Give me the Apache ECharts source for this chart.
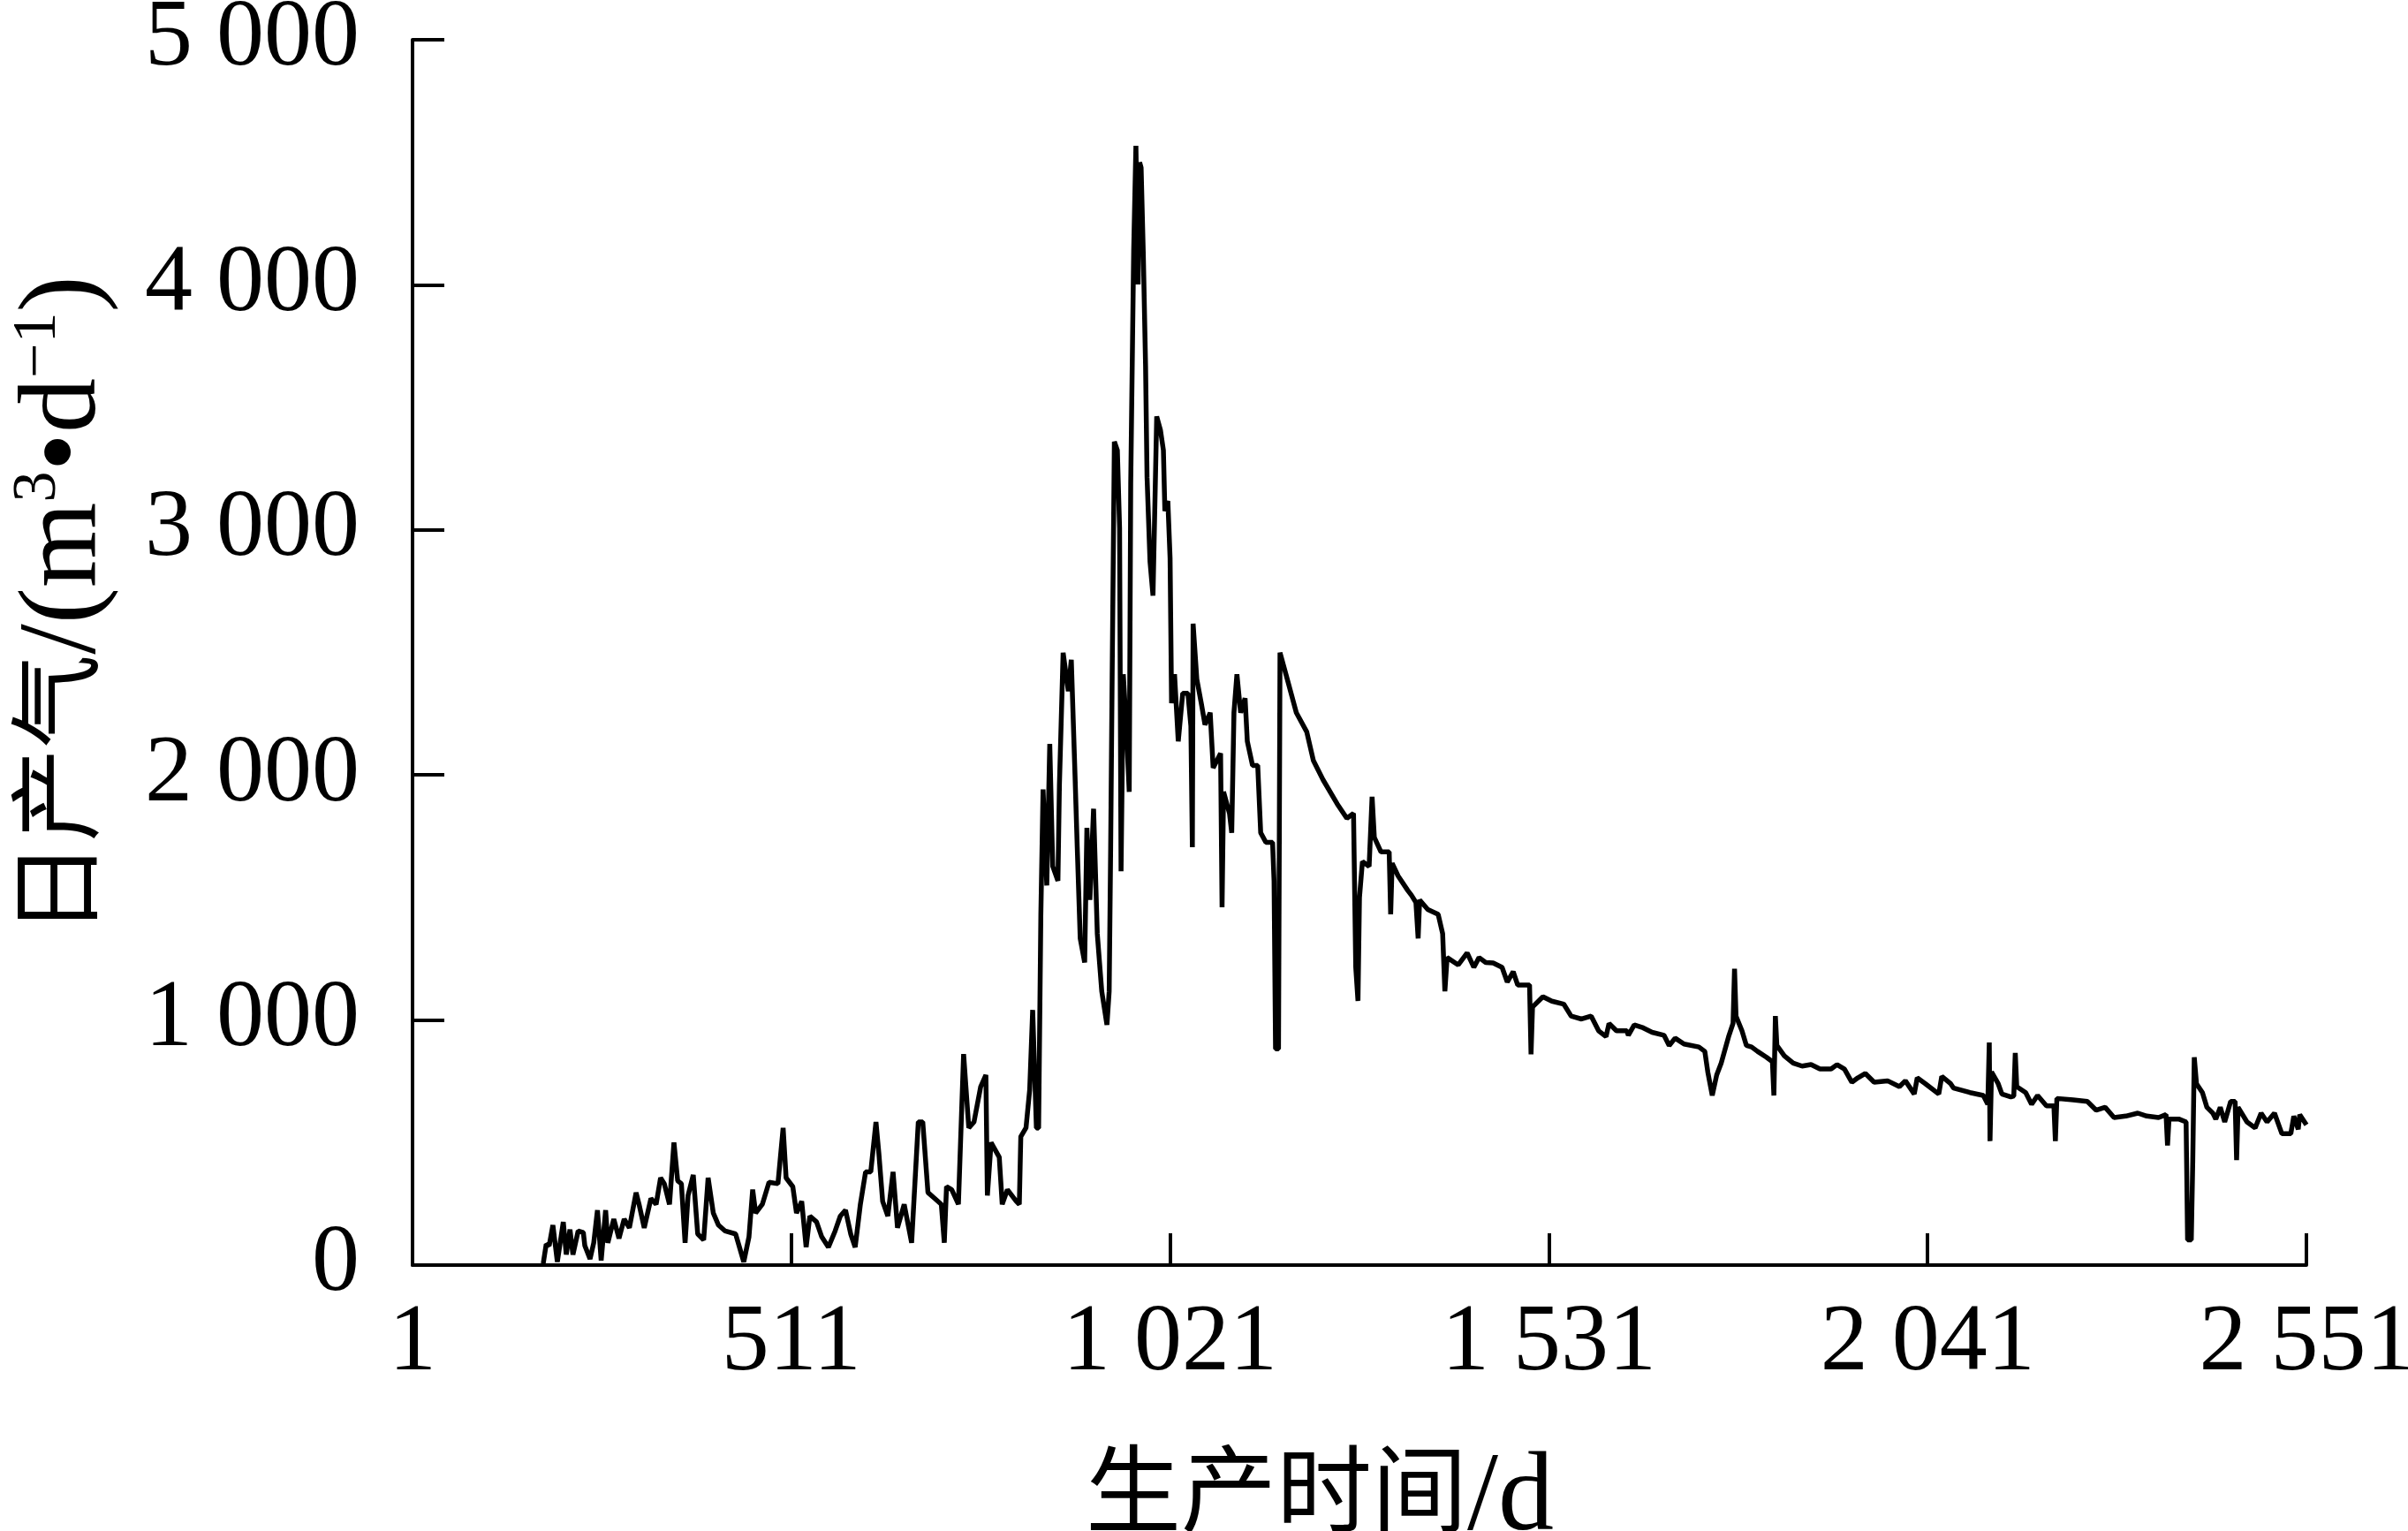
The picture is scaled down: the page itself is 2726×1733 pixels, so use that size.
<!DOCTYPE html>
<html>
<head>
<meta charset="utf-8">
<script src="https://cdn.jsdelivr.net/npm/echarts@6/dist/echarts.min.js"></script>
<style>
html,body{margin:0;padding:0;background:#fff;}
#chart{width:2726px;height:1733px;}
</style>
</head>
<body>
<div id="chart"></div>
<script>
// production day (d)
var prodDays = [
177,181,185,190,196,204,208,213,217,224,231,233,240,245,250,255,261,264,272,279,286,293,302,306,313,322,329,335,340,347,353,358,363,368,372,379,385,393,399,406,413,422,436,447,454,459,463,472,481,493,500,504,513,518,525,531,536,545,552,561,570,577,584,591,597,604,611,618,625,629,634,641,648,654,663,673,682,688,695,704,713,717,720,727,736,743,750,757,766,773,775,780,791,795,802,814,818,820,827,832,836,841,
844,847,850,855,859,863,870,872,877,884,888,893,896,900,906,909,913,918,923,929,936,939,941,943,946,950,953,955,958,962,966,968,972,975,978,980,982,985,988,990,994,998,1003,1008,1012,1014,1018,1021,1023,1027,1032,1038,1045,1049,1051,1052,1057,1063,1068,1075,1079,1089,1091,1093,1101,1104,1107,1111,1116,1122,1125,1132,1139,1143,1150,1159,1161,1163,1167,1169,1177,1191,1205,1214,1227,1246,1259,1268,1271,1274,1276,1280,1289,1293,1296,1305,1316,1318,1320,1328,1341,1346,1352,1355,1357,1368,1382,1388,1391,1394,1409,1421,1430,1437,1446,
1456,1468,1475,1483,1489,1505,1507,1509,1523,1535,1551,1561,1575,1588,1598,1608,1612,1622,1636,1638,1646,1658,1670,1686,1693,1701,1713,1733,1741,1745,1751,1757,1763,1773,1779,1781,1783,1791,1797,1804,1812,1824,1832,1834,1836,1838,1848,1860,1872,1884,1896,1911,1919,1929,1939,1947,1957,1969,1987,2003,2011,2023,2027,2038,2056,2060,2072,
2076,2098,2116,2122,2124,2125,2127,2136,2141,2153,2157,2159,2161,2173,2181,2189,2201,2211,2213,2215,2237,2256,2268,2280,2292,2308,2324,2336,2352,2362,2364,2366,2379,2389,2391,2396,2398,2400,2403,2411,2417,2425,2429,2435,2441,2449,2455,2457,2459,2471,2482,2490,2498,2508,2518,2530,2534,2540,2542,2551
];
// daily gas production (m3/d)
var dailyGas = [
7,85,79,163,13,176,43,145,43,139,133,79,25,91,224,19,224,91,188,109,188,152,296,248,152,272,248,356,332,248,500,344,332,91,284,368,127,103,356,212,163,139,127,13,115,308,212,248,338,332,560,356,320,212,260,73,200,176,115,73,139,200,224,127,73,248,380,380,584,452,260,200,380,152,248,91,584,584,296,272,248,91,320,308,248,861,560,584,728,776,284,500,440,248,308,260,248,524,560,716,1041,560,
559,1431,1941,1549,2127,1627,1568,1960,2499,2342,2470,1999,1705,1333,1235,1784,1490,1862,1352,1117,980,1117,1705,2400,3360,3325,3008,1607,2411,2200,1931,3187,4140,4567,4002,4500,4478,4119,3670,3215,2870,2732,3463,3408,3325,3077,3118,2884,2293,2411,2137,2333,2333,2200,1705,2617,2391,2293,2205,2254,2029,2088,1460,1931,1843,1764,2254,2411,2254,2313,2137,2039,2039,1764,1725,1725,1568,882,882,2499,2411,2254,2176,2058,1980,1882,1823,1843,1215,1078,1500,1647,1627,1911,1745,1686,1686,1431,1640,1588,1529,1509,1480,1333,1490,1451,1431,1352,1117,1255,1225,1274,1215,1255,1235,
1233,1215,1155,1197,1143,1143,860,1053,1095,1077,1065,1016,1004,1016,956,932,986,956,956,938,980,968,950,938,896,926,902,890,872,788,692,776,824,932,986,1209,1016,956,896,890,872,848,830,692,1016,896,854,824,812,818,800,800,818,800,746,764,782,746,752,728,752,698,764,740,698,770,740,
722,704,692,656,908,506,788,740,698,686,690,866,728,704,656,692,650,650,506,680,674,668,632,644,602,608,620,608,602,614,488,596,596,584,103,103,428,848,740,704,644,620,596,644,584,668,668,428,644,584,560,620,584,620,536,536,608,554,614,572
];
var xTicks = [1, 511, 1021, 1531, 2041, 2551];
var yTicks = [0, 1000, 2000, 3000, 4000, 5000];

var seriesData = prodDays.map(function (d, i) { return [d, dailyGas[i]]; });

function spaced(v) {
  var s = String(Math.round(v));
  return s.replace(/\B(?=(\d{3})+(?!\d))/g, ' ');
}

var FONT = "'Liberation Serif', 'Noto Sans CJK SC', serif";
var chart = echarts.init(document.getElementById('chart'), null, {renderer: 'canvas'});
chart.setOption({
  animation: false,
  backgroundColor: '#ffffff',
  grid: {left: 467, right: 115, top: 45, bottom: 301, containLabel: false, outerBoundsMode: 'none'},
  xAxis: {
    type: 'value',
    min: xTicks[0],
    max: xTicks[xTicks.length - 1],
    interval: 510,
    name: '生产时间{lat|/d}',
    nameLocation: 'middle',
    nameGap: 203,
    nameTextStyle: {
      fontFamily: FONT, fontSize: 108, color: '#000', padding: [0, 90, 0, 0],
      rich: {lat: {fontFamily: FONT, fontSize: 126, color: '#000'}}
    },
    axisLine: {show: true, lineStyle: {color: '#000', width: 4}},
    axisTick: {show: true, inside: true, length: 36, lineStyle: {color: '#000', width: 4}},
    axisLabel: {fontFamily: FONT, fontSize: 108, color: '#000', margin: 36, formatter: spaced},
    splitLine: {show: false}
  },
  yAxis: {
    type: 'value',
    min: yTicks[0],
    max: yTicks[yTicks.length - 1],
    interval: 1000,
    name: '日产气{lat|/(m}{sup|3}{lat|•d}{sup|−1}{lat|)}',
    nameLocation: 'middle',
    nameGap: 328,
    nameTextStyle: {
      fontFamily: FONT, fontSize: 106, color: '#000', padding: [0, 0, 0, 106],
      rich: {
        lat: {fontFamily: FONT, fontSize: 124, color: '#000', lineHeight: 130},
        sup: {fontFamily: FONT, fontSize: 70, color: '#000', verticalAlign: 'top', lineHeight: 130}
      }
    },
    axisLine: {show: true, lineStyle: {color: '#000', width: 4}},
    axisTick: {show: true, inside: true, length: 36, lineStyle: {color: '#000', width: 4}},
    axisLabel: {fontFamily: FONT, fontSize: 108, color: '#000', margin: 60, formatter: spaced},
    splitLine: {show: false}
  },
  series: [{
    type: 'line',
    data: seriesData,
    showSymbol: false,
    symbol: 'none',
    lineStyle: {color: '#000', width: 5.5},
    clip: true
  }]
});
</script>
</body>
</html>
